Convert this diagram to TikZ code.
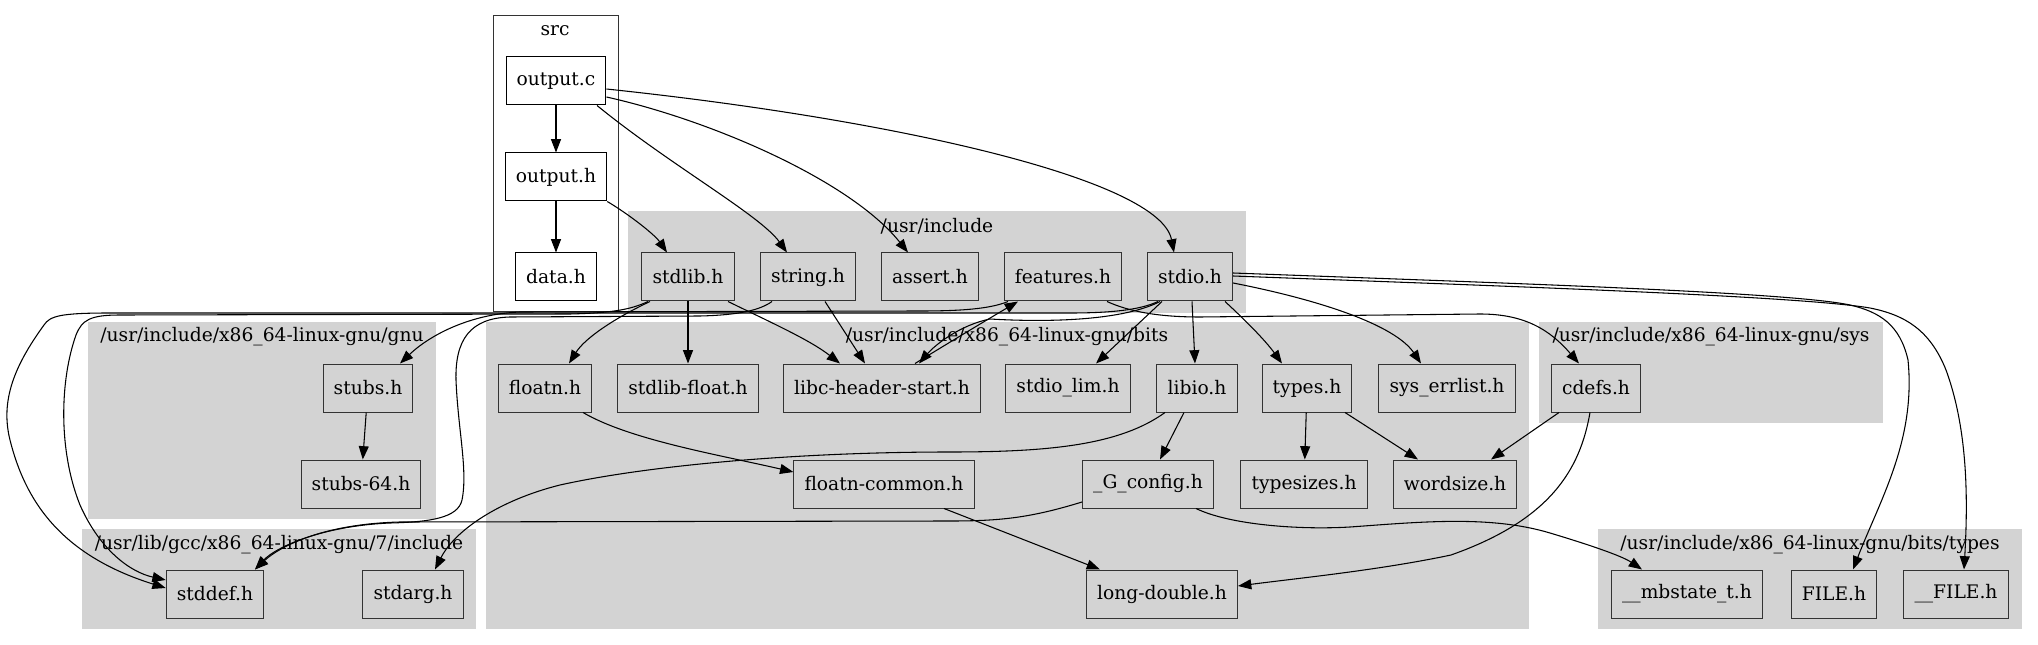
\documentclass[tikz,border=0pt]{standalone}
\usepackage{fontspec}
\setmainfont{DejaVu Serif}
\usetikzlibrary{calc,arrows.meta}
\definecolor{grpgray}{HTML}{D3D3D3}
\definecolor{rim}{HTML}{333333}
\tikzset{
  hfile/.style={draw=rim,fill=grpgray,line width=0.75pt,minimum height=36pt,minimum width=54pt,inner xsep=8pt,font=\fontsize{14}{16}\selectfont},
  dep/.style={-{Triangle[length=10pt,width=7.5pt]},line width=0.8pt},
}

\begin{document}
\begin{tikzpicture}[x=0.75pt,y=-0.75pt]
\tikzset{
  srcfile/.style={hfile,fill=white,draw=black},
  grp/.style={fill=grpgray},
  grplab/.style={inner sep=0pt,font=\fontsize{14}{16}\selectfont},
}
\useasboundingbox (0,0) rectangle (2038,645);
% clusters
\draw[draw=rim,line width=0.75pt,fill=white] (493,16) rectangle (618,312);
\fill[grp] (628,211) rectangle (1246,313);
\fill[grp] (88,322) rectangle (436,519);
\fill[grp] (486,322) rectangle (1529,629);
\fill[grp] (1539,322) rectangle (1883,423);
\fill[grp] (82,529) rectangle (476,629);
\fill[grp] (1598,529) rectangle (2022,629);
\node[grplab] (lsrc)  at (555,31)  {src};
\node[grplab] (linc)  at (937,226) {/usr/include};
\node[grplab] (lgnu)  at (262,337) {/usr/include/x86\_64-linux-gnu/gnu};
\node[grplab] (lbits) at (1007,337) {/usr/include/x86\_64-linux-gnu/bits};
\node[grplab] (lsys)  at (1711,337) {/usr/include/x86\_64-linux-gnu/sys};
\node[grplab] (lgcc)  at (279,545) {/usr/lib/gcc/x86\_64-linux-gnu/7/include};
\node[grplab] (ltyp)  at (1810,545) {/usr/include/x86\_64-linux-gnu/bits/types};
% files
\node[srcfile] (outc) at (556,81)  {output.c};
\node[srcfile] (outh) at (556,177) {output.h};
\node[srcfile] (data) at (556,277) {data.h};
\node[hfile] (stdlib) at (688,277)  {stdlib.h};
\node[hfile] (string) at (808,277)  {string.h};
\node[hfile] (assert) at (930,277)  {assert.h};
\node[hfile] (feat)   at (1063,277) {features.h};
\node[hfile] (stdio)  at (1190,277) {stdio.h};
\node[hfile] (stubs)   at (368,388) {stubs.h};
\node[hfile] (stubs64) at (361,484) {stubs-64.h};
\node[hfile] (floatn)  at (545,388)  {floatn.h};
\node[hfile] (slfloat) at (688,388)  {stdlib-float.h};
\node[hfile] (lhs)     at (882,388)  {libc-header-start.h};
\node[hfile] (siolim)  at (1068,388) {stdio\_lim.h};
\node[hfile] (libio)   at (1197,388) {libio.h};
\node[hfile] (types)   at (1307,388) {types.h};
\node[hfile] (errl)    at (1447,388) {sys\_errlist.h};
\node[hfile] (cdefs)   at (1596,388) {cdefs.h};
\node[hfile] (fcommon) at (884,484)  {floatn-common.h};
\node[hfile] (gconf)   at (1148,484) {\_G\_config.h};
\node[hfile] (tsizes)  at (1304,484) {typesizes.h};
\node[hfile] (wsize)   at (1455,484) {wordsize.h};
\node[hfile] (stddef)  at (215,594)  {stddef.h};
\node[hfile] (stdarg)  at (413,594)  {stdarg.h};
\node[hfile] (ldbl)    at (1162,594) {long-double.h};
\node[hfile] (mbst)    at (1687,594) {\_\_mbstate\_t.h};
\node[hfile] (file)    at (1834,594) {FILE.h};
\node[hfile] (ufile)   at (1956,594) {\_\_FILE.h};
% includes
\draw[dep] (outc) -- (outh);
\draw[dep] (outh) -- (data);
\draw[dep] (outh.south east) .. controls (630,215) and (655,235) .. ($(stdlib.north)+(-21,0)$);
\draw[dep] ($(outc.south)+(41,0)$) .. controls (670,165) and (760,215) .. ($(string.north)+(-21,0)$);
\draw[dep] ($(outc.east)+(0,16)$) .. controls (710,120) and (850,180) .. ($(assert.north)+(-22,0)$);
\draw[dep] ($(outc.east)+(0,8)$) .. controls (900,120) and (1160,180) .. ($(stdio.north)+(-16,0)$);
\draw[dep] ($(stdlib.south)+(-38,0)$) .. controls (615,318) and (585,338) .. ($(floatn.north)+(24,0)$);
\draw[dep] (stdlib) -- (slfloat);
\draw[dep] ($(stdlib.south)+(40,0)$) .. controls (770,322) and (810,340) .. ($(lhs.north)+(-42,0)$);
\draw[dep] ($(stdlib.south)+(-40,0)$) .. controls (630,310) and (610,313) .. (570,314) -- (120,315)
  .. controls (90,315) and (82,320) .. (76,335) .. controls (60,380) and (58,450) .. (80,505)
  .. controls (100,550) and (130,572) .. ($(stddef.west)+(0,-14)$);
\draw[dep] ($(string.south)+(17,0)$) -- ($(lhs.north)+(-17,0)$);
\draw[dep] ($(string.south)+(-36,0)$) .. controls (760,310) and (740,315) .. (700,316) -- (510,317)
  .. controls (470,318) and (455,340) .. (456,380) .. controls (458,430) and (468,470) .. (462,500)
  .. controls (458,518) and (430,522) .. (390,523) .. controls (320,526) and (275,548) .. ($(stddef.north)+(40,0)$);
\draw[dep] ($(stdio.south)+(-30,0)$) .. controls (1120,322) and (1040,322) .. (990,319)
  .. controls (960,325) and (935,345) .. ($(lhs.north)+(37,0)$);
\draw[dep] ($(stdio.south)+(-32,0)$) .. controls (1140,310) and (1110,313) .. (1070,313) -- (110,313)
  .. controls (60,313) and (50,316) .. (44,325) .. controls (15,365) and (0,400) .. (10,440)
  .. controls (25,500) and (60,555) .. ($(stddef.west)+(0,-6)$);
\draw[dep] ($(stdio.south)+(-28,0)$) -- ($(siolim.north)+(28,0)$);
\draw[dep] ($(stdio.south)+(2,0)$) -- ($(libio.north)+(-2,0)$);
\draw[dep] ($(stdio.south)+(35,0)$) .. controls (1245,320) and (1265,340) .. ($(types.north)+(-25,0)$);
\draw[dep] ($(stdio.east)+(0,6)$) .. controls (1320,300) and (1395,325) .. ($(errl.north)+(-26,0)$);
\draw[dep] ($(stdio.east)+(0,-4)$) .. controls (1500,283) and (1790,292) .. (1850,305)
  .. controls (1880,312) and (1900,325) .. (1908,360) .. controls (1916,440) and (1880,500) .. ($(file.north)+(19,0)$);
\draw[dep] ($(stdio.east)+(0,-1)$) .. controls (1500,286) and (1800,296) .. (1870,308)
  .. controls (1905,315) and (1930,330) .. (1946,370) .. controls (1968,430) and (1968,500) .. ($(ufile.north)+(8,0)$);
\draw[dep] ($(lhs.north)+(33,0)$) .. controls (950,342) and (990,318) .. ($(feat.south)+(-45,0)$);
\draw[dep] ($(feat.south)+(-55,0)$) .. controls (990,309) and (960,311) .. (920,311) -- (520,312)
  .. controls (470,314) and (430,335) .. ($(stubs.north)+(32,0)$);
\draw[dep] ($(feat.south)+(44,0)$) .. controls (1130,312) and (1160,317) .. (1200,317) -- (1480,314)
  .. controls (1525,314) and (1550,330) .. ($(cdefs.north)+(-17,0)$);
\draw[dep] (stubs) -- (stubs64);
\draw[dep] ($(floatn.south)+(38,0)$) .. controls (630,440) and (720,455) .. ($(fcommon.west)+(0,-12)$);
\draw[dep] ($(fcommon.south)+(60,0)$) -- ($(ldbl.north)+(-62,0)$);
\draw[dep] ($(libio.south)+(-13,0)$) -- ($(gconf.north)+(12,0)$);
\draw[dep] ($(libio.south)+(-32,0)$) .. controls (1120,445) and (1050,452) .. (950,452)
  .. controls (800,452) and (650,465) .. (560,485) .. controls (500,500) and (455,530) .. ($(stdarg.north)+(22,0)$);
\draw[dep] ($(gconf.west)+(0,18)$) .. controls (1030,518) and (1000,521) .. (950,521) -- (400,522)
  .. controls (320,524) and (278,548) .. ($(stddef.north)+(40,0)$);
\draw[dep] ($(gconf.south)+(48,0)$) .. controls (1230,525) and (1300,530) .. (1350,527)
  .. controls (1420,522) and (1490,515) .. (1550,533) .. controls (1590,545) and (1622,556) .. ($(mbst.north)+(-45,0)$);
\draw[dep] (types) -- (tsizes);
\draw[dep] ($(types.south)+(38,0)$) -- ($(wsize.north)+(-37,0)$);
\draw[dep] ($(cdefs.south)+(-37,0)$) -- ($(wsize.north)+(36,0)$);
\draw[dep] ($(cdefs.south)+(-6,0)$) .. controls (1580,470) and (1550,520) .. (1451,555)
  .. controls (1380,570) and (1300,578) .. ($(ldbl.east)+(0,-8)$);
\end{tikzpicture}
\end{document}
